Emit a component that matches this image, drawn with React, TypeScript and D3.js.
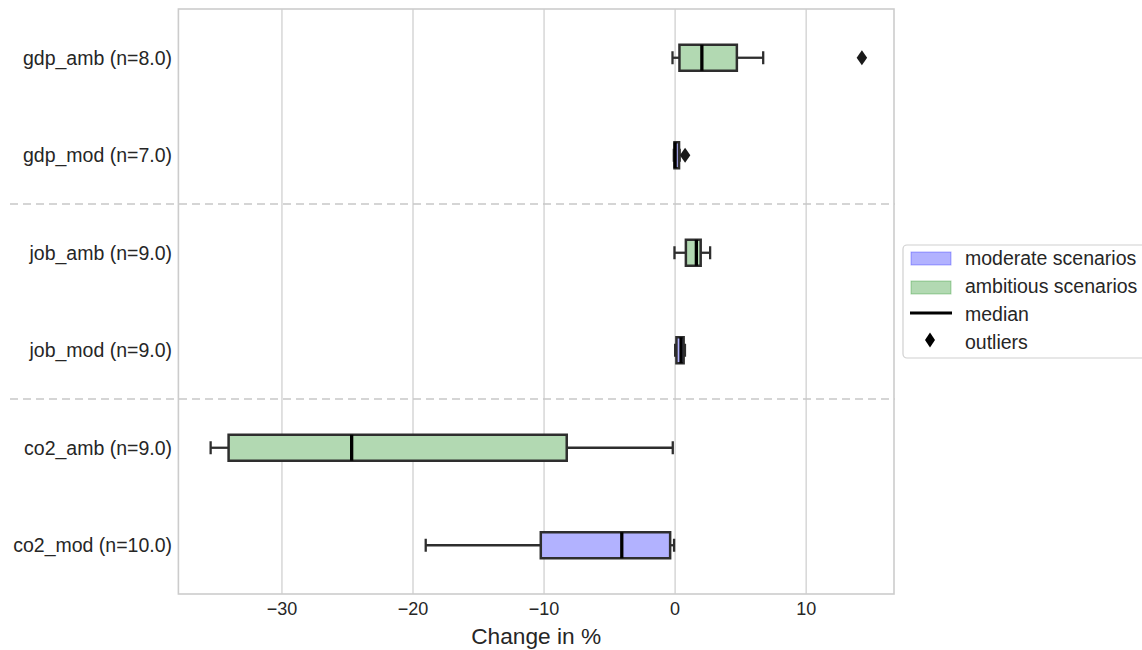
import React from "react";
import * as d3 from "d3";

const categories = [
  "gdp_amb (n=8.0)",
  "gdp_mod (n=7.0)",
  "job_amb (n=9.0)",
  "job_mod (n=9.0)",
  "co2_amb (n=9.0)",
  "co2_mod (n=10.0)",
];
const scenarioType = ["amb", "mod", "amb", "mod", "amb", "mod"];
const whiskerLow = [-0.2, -0.1, -0.05, 0.0, -35.44, -19.03];
const q1 = [0.33, -0.05, 0.82, 0.1, -34.07, -10.25];
const median = [2.04, 0.0, 1.62, 0.45, -24.68, -4.07];
const q3 = [4.71, 0.3, 1.95, 0.65, -8.27, -0.38];
const whiskerHigh = [6.72, 0.35, 2.67, 0.75, -0.18, -0.08];
const outliers: number[][] = [[14.25], [0.76], [], [], [], []];
const separators = [1.5, 3.5];
const xTicks = [-30, -20, -10, 0, 10];
const legendLabels = ["moderate scenarios", "ambitious scenarios", "median", "outliers"];
const xLabel = "Change in %";

const W = 1142;
const H = 650;
const left = 178.4;
const right = 894;
const top = 9;
const bottom = 594;
const FONT = "'Liberation Sans', Arial, sans-serif";
const fillMod = "rgb(178,178,255)";
const fillAmb = "rgb(178,217,178)";
const edge = "#2e2e2e";

export default function App() {
  const x = d3.scaleLinear().domain([-37.9, 16.7]).range([left, right]);
  const y = d3.scaleLinear().domain([-0.5, 5.5]).range([top, bottom]);
  const boxH = 26;
  const capH = 13;

  const diamond = (cx: number, cy: number, w = 10, h = 15) =>
    `M${cx},${cy - h / 2}L${cx + w / 2},${cy}L${cx},${cy + h / 2}L${cx - w / 2},${cy}Z`;

  return (
    <svg
      width={W}
      height={H}
      style={{ position: "absolute", left: 0, top: 0, background: "#fff" }}
      fontFamily={FONT}
    >
      <rect x={0} y={0} width={W} height={H} fill="#fff" />
      {xTicks.map((t) => (
        <line key={t} x1={x(t)} x2={x(t)} y1={top} y2={bottom} stroke="#d9d9d9" strokeWidth={1.6} />
      ))}
      {separators.map((s) => (
        <line
          key={s}
          x1={10}
          x2={895}
          y1={y(s)}
          y2={y(s)}
          stroke="#c8c8c8"
          strokeWidth={1.5}
          strokeDasharray="8,5"
        />
      ))}
      {categories.map((c, i) => {
        const cy = y(i);
        const fill = scenarioType[i] === "mod" ? fillMod : fillAmb;
        return (
          <g key={c}>
            <line x1={x(whiskerLow[i])} x2={x(q1[i])} y1={cy} y2={cy} stroke={edge} strokeWidth={2.3} />
            <line x1={x(q3[i])} x2={x(whiskerHigh[i])} y1={cy} y2={cy} stroke={edge} strokeWidth={2.3} />
            <line
              x1={x(whiskerLow[i])}
              x2={x(whiskerLow[i])}
              y1={cy - capH / 2}
              y2={cy + capH / 2}
              stroke={edge}
              strokeWidth={2.3}
            />
            <line
              x1={x(whiskerHigh[i])}
              x2={x(whiskerHigh[i])}
              y1={cy - capH / 2}
              y2={cy + capH / 2}
              stroke={edge}
              strokeWidth={2.3}
            />
            <rect
              x={x(q1[i])}
              y={cy - boxH / 2}
              width={x(q3[i]) - x(q1[i])}
              height={boxH}
              fill={fill}
              stroke={edge}
              strokeWidth={2.5}
            />
            <line
              x1={x(median[i])}
              x2={x(median[i])}
              y1={cy - boxH / 2}
              y2={cy + boxH / 2}
              stroke="#000"
              strokeWidth={3.3}
            />
            {outliers[i].map((o, k) => (
              <path key={k} d={diamond(x(o), cy, 10.5, 15)} fill="#1a1a1a" />
            ))}
          </g>
        );
      })}
      <rect x={left} y={top} width={right - left} height={bottom - top} fill="none" stroke="#cccccc" strokeWidth={1.6} />
      {categories.map((c, i) => (
        <text
          key={c}
          x={172}
          y={y(i)}
          textAnchor="end"
          dominantBaseline="central"
          fontSize={19.5}
          fill="#262626"
        >
          {c}
        </text>
      ))}
      {xTicks.map((t) => (
        <text key={t} x={x(t)} y={609} textAnchor="middle" dominantBaseline="central" fontSize={18} fill="#262626">
          {t < 0 ? "\u2212" + Math.abs(t) : String(t)}
        </text>
      ))}
      <text x={(left + right) / 2} y={636} textAnchor="middle" dominantBaseline="central" fontSize={22.7} fill="#262626">
        {xLabel}
      </text>
      <g>
        <rect x={903} y={245} width={250} height={113} rx={4} fill="#fff" stroke="#d0d0d0" strokeWidth={1.2} />
        <rect x={911} y={252} width={40} height={13} fill="rgba(0,0,255,0.3)" stroke="rgba(0,0,255,0.3)" strokeWidth={1} />
        <rect x={911} y={281} width={40} height={13} fill="rgba(0,128,0,0.3)" stroke="rgba(0,128,0,0.3)" strokeWidth={1} />
        <line x1={910} x2={952} y1={313} y2={313} stroke="#000" strokeWidth={3} />
        <path d={diamond(930, 340, 10, 15)} fill="#000" />
        {legendLabels.map((l, k) => (
          <text key={l} x={965} y={258 + k * 28} dominantBaseline="central" fontSize={19.5} fill="#262626">
            {l}
          </text>
        ))}
      </g>
    </svg>
  );
}
